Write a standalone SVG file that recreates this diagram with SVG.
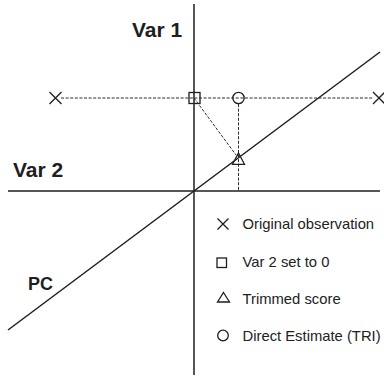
<svg xmlns="http://www.w3.org/2000/svg" width="384" height="378" viewBox="0 0 384 378">
<style>
.ax{stroke:#1e1e1e;stroke-width:1.5;fill:none}
.dash{stroke:#2a2a2a;stroke-width:1;stroke-dasharray:3 1.6;fill:none}
.sym{stroke:#1e1e1e;stroke-width:1.3;fill:none}
.lbl{font-family:"Liberation Sans",Arial,sans-serif;font-weight:bold;fill:#1e1e1e}
.leg{font-family:"Liberation Sans",Arial,sans-serif;font-size:14.8px;fill:#222}
</style>
<rect width="384" height="378" fill="#fff"/>
<g id="axes">
<line class="ax" x1="194" y1="4" x2="194" y2="375"/>
<line class="ax" x1="8" y1="191" x2="380" y2="191"/>
<line class="ax" x1="8" y1="330" x2="380" y2="52"/>
</g>
<g id="connectors">
<line class="dash" x1="61" y1="98" x2="373" y2="98"/>
<line class="dash" x1="194" y1="98" x2="236" y2="155"/>
<line class="dash" x1="238.5" y1="104" x2="238.5" y2="191"/>
</g>
<g id="obs-left"><path class="sym" d="M49.5 92L61.5 104M61.5 92L49.5 104"/></g>
<g id="obs-right"><path class="sym" d="M373 92L385 104M385 92L373 104"/></g>
<g id="var2-zero"><rect class="sym" x="189" y="92.5" width="11" height="11"/></g>
<g id="direct-estimate"><circle class="sym" cx="238.5" cy="98" r="5.7"/></g>
<g id="trimmed"><path class="sym" d="M238.5 153L244.5 164.3H232.5Z"/></g>
<g id="labels">
<text class="lbl" x="132" y="36.5" font-size="21">Var 1</text>
<text class="lbl" x="13" y="176.5" font-size="21">Var 2</text>
<text class="lbl" x="28" y="290" font-size="18">PC</text>
</g>
<g id="legend">
<path class="sym" d="M217.5 218.5L228.5 229.5M228.5 218.5L217.5 229.5"/>
<text class="leg" x="242.5" y="229">Original observation</text>
<rect class="sym" x="217" y="258" width="9.5" height="9.5"/>
<text class="leg" x="242.5" y="267">Var 2 set to 0</text>
<path class="sym" d="M223.5 292.5L229.5 302H217.5Z"/>
<text class="leg" x="242.5" y="303.5">Trimmed score</text>
<circle class="sym" cx="223" cy="335.5" r="5.3"/>
<text class="leg" x="242.5" y="340.5">Direct Estimate (TRI)</text>
</g>
</svg>
